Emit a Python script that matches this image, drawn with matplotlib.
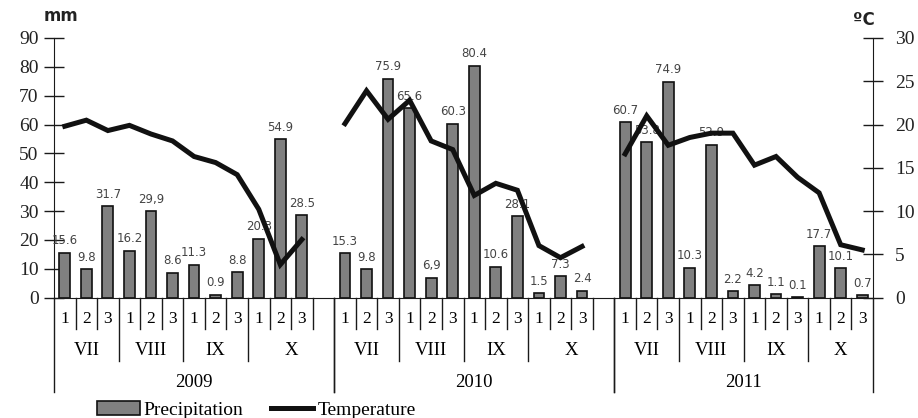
import numpy as np
import matplotlib.pyplot as plt
from matplotlib.patches import Patch
from matplotlib.lines import Line2D

plt.rcParams['font.family'] = ['Liberation Serif', 'DejaVu Serif']

years = ["2009", "2010", "2011"]
months = ["VII", "VIII", "IX", "X"]
decades = ["1", "2", "3"]

# precipitation per decade (mm)
precip_2009 = [15.6, 9.8, 31.7, 16.2, 29.9, 8.6, 11.3, 0.9, 8.8, 20.3, 54.9, 28.5]
precip_2010 = [15.3, 9.8, 75.9, 65.6, 6.9, 60.3, 80.4, 10.6, 28.1, 1.5, 7.3, 2.4]
precip_2011 = [60.7, 53.8, 74.9, 10.3, 52.9, 2.2, 4.2, 1.1, 0.1, 17.7, 10.1, 0.7]

labels_2009 = ["15.6", "9.8", "31.7", "16.2", "29,9", "8.6", "11.3", "0.9", "8.8", "20.3", "54.9", "28.5"]
labels_2010 = ["15.3", "9.8", "75.9", "65.6", "6,9", "60.3", "80.4", "10.6", "28.1", "1.5", "7.3", "2.4"]
labels_2011 = ["60.7", "53.8", "74.9", "10.3", "52.9", "2.2", "4.2", "1.1", "0.1", "17.7", "10.1", "0.7"]

# mean air temperature per decade (deg C)
temp_2009 = [19.8, 20.5, 19.3, 19.9, 18.9, 18.1, 16.3, 15.6, 14.2, 10.2, 3.8, 6.7]
temp_2010 = [20.1, 23.9, 20.6, 22.8, 18.1, 17.1, 11.8, 13.2, 12.4, 6.0, 4.6, 5.9]
temp_2011 = [16.6, 21.0, 17.6, 18.5, 19.0, 19.0, 15.3, 16.3, 13.9, 12.1, 6.1, 5.5]

precip = [precip_2009, precip_2010, precip_2011]
plabels = [labels_2009, labels_2010, labels_2011]
temps = [temp_2009, temp_2010, temp_2011]

# 2009 and 2010 keep one empty slot after October
year_slots = [13, 13, 12]
starts = np.concatenate([[0], np.cumsum(year_slots)[:-1]])
total = sum(year_slots)

fig = plt.figure(figsize=(9.18, 4.18), dpi=100)
ax = fig.add_axes([54/918, 1 - 297.5/418, (873 - 54)/918, (297.5 - 38)/418])
ax2 = ax.twinx()

ax.set_xlim(-0.5, total - 0.5)
ax.set_ylim(0, 90)
ax2.set_ylim(0, 30)

line_c = '#1a1a1a'
for k in range(3):
    xs = starts[k] + np.arange(12)
    ax.bar(xs, precip[k], width=0.5, color='#808080', edgecolor='#111111', linewidth=1.2, zorder=2)
    for x, v, lab in zip(xs, precip[k], plabels[k]):
        ax.annotate(lab, (x, v), xytext=(0, 4), textcoords='offset points',
                    ha='center', va='bottom', fontsize=8.5, color='#444444',
                    family='DejaVu Sans', zorder=3)
    ax2.plot(xs, temps[k], color='#111111', lw=3.6, solid_joinstyle='miter', zorder=4)

# category axis drawn by hand (decade / month / year rows)
tr = ax.get_xaxis_transform()
for k in range(3):
    s = starts[k]
    end = s + year_slots[k] - 0.5
    for b in [s + 0.5, s + 1.5, s + 3.5, s + 4.5, s + 6.5, s + 7.5, s + 9.5, s + 10.5, s + 11.5]:
        if b < end:
            ax.plot([b, b], [0, -0.12], transform=tr, color=line_c, lw=1, clip_on=False)
    for b in [s + 2.5, s + 5.5, s + 8.5]:
        ax.plot([b, b], [0, -0.245], transform=tr, color=line_c, lw=1, clip_on=False)
    for b in [s - 0.5, end]:
        ax.plot([b, b], [0, -0.365], transform=tr, color=line_c, lw=1, clip_on=False)
    for i in range(12):
        ax.text(s + i, -0.083, decades[i % 3], transform=tr, ha='center', va='center', fontsize=12.5)
    mcent = [s + 1, s + 4, s + 7, (s + 8.5 + end) / 2]
    for m, c in zip(months, mcent):
        ax.text(c, -0.206, m, transform=tr, ha='center', va='center', fontsize=13.5)
    ax.text((s - 0.5 + end) / 2, -0.326, years[k], transform=tr, ha='center', va='center', fontsize=13.5)

ax.spines['top'].set_visible(False)
ax.spines['right'].set_visible(False)
for sp in ['top', 'left', 'bottom']:
    ax2.spines[sp].set_visible(False)
for sp in ax.spines.values():
    sp.set_color(line_c)
ax2.spines['right'].set_color(line_c)

ax.set_xticks([])
ax.set_yticks(range(0, 91, 10))
ax.tick_params(axis='y', direction='inout', length=14, width=1, color=line_c,
               labelsize=14, pad=4, labelcolor='#222222')
ax2.set_yticks(range(0, 31, 5))
ax2.tick_params(axis='y', direction='inout', length=14, width=1, color=line_c,
                labelsize=14, pad=9, labelcolor='#222222')

fig.text(61/918, 1 - 16/418, 'mm', ha='center', va='center', fontsize=12,
         fontweight='bold', family='DejaVu Sans', color='#222222')
fig.text(864/918, 1 - 20/418, 'ºC', ha='center', va='center', fontsize=12,
         fontweight='bold', family='DejaVu Sans', color='#222222')

handles = [Patch(facecolor='#808080', edgecolor='#111111', linewidth=1.2, label='Precipitation'),
           Line2D([], [], color='#111111', lw=3.6, label='Temperature')]
fig.legend(handles=handles, loc='center left', bbox_to_anchor=(97/918, 1 - 410/418), ncol=2,
           frameon=False, fontsize=14, handlelength=2.2, handletextpad=0.2,
           columnspacing=1.4, borderpad=0, borderaxespad=0)

fig.savefig('out.png', dpi=100)
